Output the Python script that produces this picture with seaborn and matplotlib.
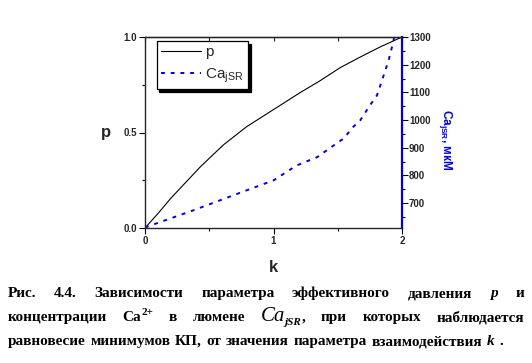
import numpy as np
import pandas as pd
import matplotlib
matplotlib.use("Agg")
import matplotlib.pyplot as plt
from matplotlib.ticker import MultipleLocator
from matplotlib.transforms import IdentityTransform
import seaborn as sns

# data
k_p = [0.0, 0.1, 0.2, 0.43, 0.61, 0.79, 1.0, 1.21, 1.36, 1.52, 1.675, 1.83, 2.0]
p_vals = [0.0, 0.075, 0.155, 0.32, 0.435, 0.53, 0.62, 0.71, 0.77, 0.84, 0.895, 0.948, 1.0]

k_ca = [0.0, 0.195, 0.377, 0.584, 0.79, 1.0, 1.18, 1.34, 1.47, 1.545, 1.62, 1.675,
        1.75, 1.805, 1.857, 1.896, 1.922, 1.94]
ca_vals = [612, 644, 674, 710, 746, 782, 836, 866, 909, 933, 975, 999,
           1053, 1089, 1161, 1216, 1264, 1300]

p_ticks = [0.0, 0.5, 1.0]
k_ticks = [0, 1, 2]
ca_ticks = [700, 800, 900, 1000, 1100, 1200, 1300]

caption_1 = ["Рис.", "4.4.", "Зависимости", "параметра", "эффективного", "давления", "p", "и"]
caption_2 = ["концентрации", "Ca|2+", "в", "люмене", "Ca|jSR", "при", "которых", "наблюдается"]
caption_3 = ["равновесие", "минимумов", "КП,", "от", "значения", "параметра",
             "взаимодействия", "k", "."]

sns.set_style("ticks")
plt.rcParams['font.family'] = ['Liberation Sans', 'DejaVu Sans']
plt.rcParams['mathtext.default'] = 'regular'

df_p = pd.DataFrame({'k': k_p, 'p': p_vals})
df_ca = pd.DataFrame({'k': k_ca, 'ca': ca_vals})

fig = plt.figure(figsize=(5.32, 3.63), dpi=100)
ax = fig.add_axes([145 / 532, 1 - 228 / 363, 257 / 532, 191 / 363])
ax2 = ax.twinx()

sns.lineplot(data=df_p, x='k', y='p', ax=ax, color='black', lw=0.8, label='p', legend=False)
sns.lineplot(data=df_ca, x='k', y='ca', ax=ax2, color='#0000dd', lw=1.4,
             linestyle=(0, (2, 3)), label='Ca$_{jSR}$', legend=False)

ax.set_xlim(0, 2)
ax.set_ylim(0, 1)
ax2.set_ylim(610, 1300)

tick_font = dict(fontsize=7, fontweight='bold')
ax.set_xticks(k_ticks)
ax.set_xticklabels([str(t) for t in k_ticks], **tick_font)
ax.xaxis.set_minor_locator(MultipleLocator(0.5))
ax.set_yticks(p_ticks)
ax.set_yticklabels(['%.1f' % t for t in p_ticks], **tick_font)
ax.yaxis.set_minor_locator(MultipleLocator(0.25))
ax.tick_params(which='both', direction='out', width=0.8, color='black', pad=2)
ax.tick_params(which='major', length=4)
ax.tick_params(which='minor', length=2.5)

top = ax.secondary_xaxis('top')
top.set_xticks(k_ticks)
top.xaxis.set_minor_locator(MultipleLocator(0.5))
top.tick_params(which='both', direction='in', labeltop=False, length=3, width=0.8)

ax2.set_yticks(ca_ticks)
ax2.set_yticklabels([str(t) for t in ca_ticks], **tick_font)
ax2.yaxis.set_minor_locator(MultipleLocator(50))
ax2.tick_params(which='both', direction='out', width=0.8, color='black', pad=1)
ax2.tick_params(which='major', length=4)
ax2.tick_params(which='minor', length=2.5)

for s in ['left', 'bottom', 'top']:
    ax.spines[s].set_color('black')
    ax.spines[s].set_linewidth(0.9)
ax2.spines['right'].set_color('#0000dd')
ax2.spines['right'].set_linewidth(1.6)
ax.spines['right'].set_visible(False)
top.spines['top'].set_linewidth(0.9)

ax.set_xlabel('k', fontsize=12, fontweight='bold', labelpad=10)
ax.set_ylabel('p', fontsize=12, fontweight='bold', rotation=0, labelpad=12, va='center')
ax2.set_ylabel('Ca$_{jSR}$, мкМ', fontsize=8.5, fontweight='bold', color='#0000dd',
               rotation=270, labelpad=3, va='bottom')
ax2.yaxis.set_label_coords(1.135, 0.46)

h1, l1 = ax.get_legend_handles_labels()
h2, l2 = ax2.get_legend_handles_labels()
leg = ax2.legend(h1 + h2, l1 + l2, loc='upper left', bbox_to_anchor=(0.045, 0.98),
                 frameon=True, fancybox=False, shadow={'color': 'black', 'alpha': 1},
                 fontsize=11, handlelength=2.6, borderpad=0.3, labelspacing=0.45,
                 handletextpad=0.3, borderaxespad=0)
leg.get_frame().set_edgecolor('black')
leg.get_frame().set_linewidth(0.9)
leg.get_frame().set_alpha(1)

# caption, words spread to the text width
serif = 'Liberation Serif'
base = dict(family=serif, weight='bold', size=11, color='black')
ital = dict(base, style='italic')


def word_parts(w):
    if w in ('p', 'k'):
        return [(w, ital, 0)]
    if w == 'Ca|2+':
        return [('Ca', base, 0), ('2+', dict(base, size=8), 6)]
    if w == 'Ca|jSR':
        return [('Ca', dict(ital, size=15, weight='normal'), 0),
                ('jSR', dict(ital, size=8), -4), (',', base, 0)]
    return [(w, base, 0)]


renderer = fig.canvas.get_renderer()


def put_line(words, y, x0, x1):
    placed = []
    total = 0
    for w in words:
        parts = []
        ww = 0
        for s, kw, dy in word_parts(w):
            t = fig.text(0, 0, s, transform=IdentityTransform(), va='baseline', **kw)
            wd = t.get_window_extent(renderer=renderer).width
            parts.append((t, ww, dy))
            ww += wd
        placed.append((parts, ww))
        total += ww
    gap = (x1 - x0 - total) / (len(words) - 1)
    x = x0
    for parts, ww in placed:
        for t, off, dy in parts:
            t.set_position((x + off, y + dy))
        x += ww + gap


put_line(caption_1, 363 - 297, 8, 524)
put_line(caption_2, 363 - 321, 8, 524)
put_line(caption_3, 363 - 345, 8, 503)

fig.savefig('out.png', dpi=100)
